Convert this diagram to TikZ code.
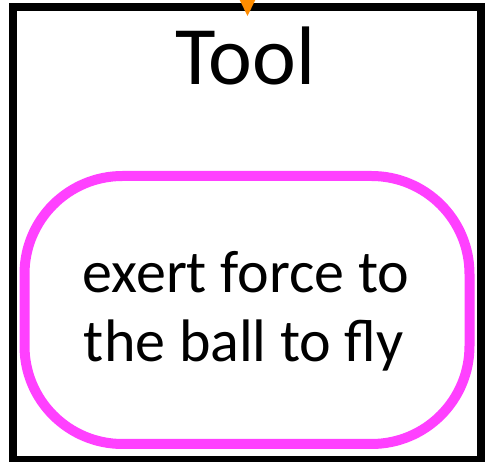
\documentclass[tikz,border=0pt]{standalone}
\usepackage{fontspec}
\setmainfont{Carlito}
\usetikzlibrary{arrows.meta}
\definecolor{boxmagenta}{RGB}{255,64,255}
\definecolor{arroworange}{RGB}{255,140,0}
\tikzset{
  toolbox/.style={draw=black, line width=8pt, minimum width=468pt, minimum height=453pt, inner sep=0pt},
  funcbox/.style={draw=boxmagenta, line width=10pt, rounded corners=98pt, minimum width=445pt, minimum height=268pt, inner sep=0pt},
  titletext/.style={anchor=base, inner sep=0pt, font=\fontsize{83}{100}\selectfont},
  bodytext/.style={anchor=base, inner sep=0pt, font=\fontsize{60}{72}\selectfont},
  inflow/.style={draw=arroworange, line width=2pt, -{Triangle[length=17pt,width=16pt]}}
}
\begin{document}
\begin{tikzpicture}[x=1pt,y=-1pt]
\useasboundingbox (0,0) rectangle (491,462);
\clip (0,0) rectangle (491,462);
\node[toolbox] (tool) at (247,233.5) {};
\node[funcbox] (func) at (247,310) {};
\node[titletext] (title) at (245.5,85) {Tool};
\node[bodytext] (line1) at (246,293) {exert force to};
\node[bodytext] (line2) at (244,362) {the ball to fly};
\coordinate (src) at (247.5,-40);
\coordinate (tip) at (247.5,16);
\draw[inflow] (src) -- (tip);
\end{tikzpicture}
\end{document}
